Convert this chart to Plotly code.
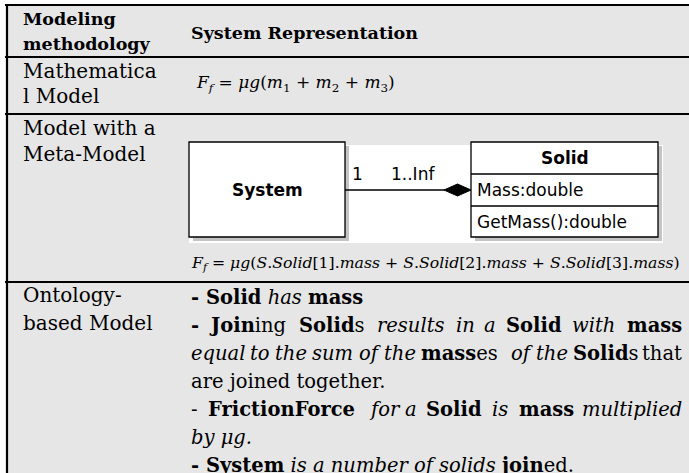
import re
import plotly.graph_objects as go

# table content
header_left = ["Modeling", "methodology"]
header_right = "System Representation"
methods = [["Mathematica", "l Model"], ["Model with a", "Meta-Model"], ["Ontology-", "based Model"]]

formula_math = ("<i>F</i><sub><i>f</i></sub> = <i>μg</i>(<i>m</i><sub>1</sub> + "
                "<i>m</i><sub>2</sub> + <i>m</i><sub>3</sub>)")
formula_meta = ("<i>F</i><sub><i>f</i></sub> = <i>μg</i>(<i>S</i>.<i>Solid</i>[1].<i>mass</i> + "
                "<i>S</i>.<i>Solid</i>[2].<i>mass</i> + <i>S</i>.<i>Solid</i>[3].<i>mass</i>)")

uml_system = "System"
uml_solid = "Solid"
uml_members = ["Mass:double", "GetMass():double"]
multiplicity = ["1", "1..Inf"]

# ontology statements, one list of words per printed line
ontology_lines = [
    ["<b>- Solid</b>", "<i>has</i>", "<b>mass</b>"],
    ["<b>-</b>", "<b>Join</b>ing", "<b>Solid</b>s", "<i>results</i>", "<i>in</i>", "<i>a</i>",
     "<b>Solid</b>", "<i>with</i>", "<b>mass</b>"],
    ["<i>equal</i>", "<i>to</i>", "<i>the</i>", "<i>sum</i>", "<i>of</i>", "<i>the</i>",
     "<b>mass</b>es", "<i>of</i>", "<i>the</i>", "<b>Solid</b>s", "that"],
    ["are joined together."],
    ["-", "<b>FrictionForce</b>", "<i>for</i>", "<i>a</i>", "<b>Solid</b>", "<i>is</i>",
     "<b>mass</b>", "<i>multiplied</i>"],
    ["<i>by μg.</i>"],
    ["<b>- System</b> <i>is a number of solids</i> <b>join</b>ed."],
]
justified = [False, True, True, False, True, False, False]

SERIF = "DejaVu Serif"
SANS = "DejaVu Sans"
GRID = "#e6e6e6"

fig = go.Figure()
fig.add_trace(go.Scatter(x=[0, 689], y=[0, 473], mode="markers",
                         marker=dict(opacity=0), hoverinfo="skip", showlegend=False))

shapes = []
# table background and rules
shapes.append(dict(type="rect", x0=6, x1=700, y0=5, y1=480, fillcolor=GRID, line_width=0, layer="below"))
for yy in [5, 57, 114, 282]:
    shapes.append(dict(type="line", x0=5, x1=700, y0=yy, y1=yy, line=dict(color="black", width=2.2)))
shapes.append(dict(type="line", x0=7, x1=7, y0=4, y1=480, line=dict(color="black", width=2.2)))

# UML diagram
shapes.append(dict(type="rect", x0=189, x1=663, y0=145, y1=243, fillcolor="white", line_width=0))
shapes.append(dict(type="rect", x0=193, x1=349, y0=146, y1=241, fillcolor="#c4c4c4", line_width=0))
shapes.append(dict(type="rect", x0=475, x1=662, y0=146, y1=241, fillcolor="#c4c4c4", line_width=0))
shapes.append(dict(type="rect", x0=189, x1=345, y0=142, y1=237, fillcolor="white",
                   line=dict(color="black", width=1.3)))
shapes.append(dict(type="rect", x0=471, x1=658, y0=142, y1=237, fillcolor="white",
                   line=dict(color="black", width=1.3)))
for yy in [174, 206]:
    shapes.append(dict(type="line", x0=471, x1=658, y0=yy, y1=yy, line=dict(color="black", width=1.3)))
shapes.append(dict(type="line", x0=345, x1=445, y0=190, y1=190, line=dict(color="black", width=1.3)))
shapes.append(dict(type="path", path="M 444 190 L 457.5 184 L 471 190 L 457.5 196 Z",
                   fillcolor="black", line=dict(color="black", width=1)))

ann = []


def text(x, y, s, size, family=SERIF, anchor="left", color="black"):
    ann.append(dict(x=x, y=y, xref="x", yref="y", text=s, showarrow=False, xanchor=anchor,
                    yanchor="middle", font=dict(family=family, size=size, color=color)))


def char_w(ch):
    if ch in "ijl.,:;!|'":
        return 0.32
    if ch in "frt-()[] ":
        return 0.40
    if ch in "mw":
        return 0.92
    if ch in "MW":
        return 1.0
    if ch.isupper():
        return 0.74
    return 0.61


def est_width(word, size):
    # rough DejaVu Serif advance widths, bold runs a bit wider
    w = 0
    bold = False
    for part in re.split(r"(<[^>]+>)", word):
        if part == "<b>":
            bold = True
        elif part == "</b>":
            bold = False
        elif part and not part.startswith("<"):
            w += sum(char_w(c) for c in part) * (1.12 if bold else 1.0)
    return w * size


# header
text(21, 19, "<b>%s</b>" % header_left[0], 17.5)
text(21, 44, "<b>%s</b>" % header_left[1], 17.5)
text(189, 33, "<b>%s</b>" % header_right, 17.5)

# method column
method_y = [(71, 96), (128, 154), (295, 323)]
for lines, ys in zip(methods, method_y):
    for s, yy in zip(lines, ys):
        text(21, yy, s, 20)

# formulas
text(194, 83, formula_math, 17)
text(189, 263, formula_meta, 15.7)

# UML labels
text(267, 190, "<b>%s</b>" % uml_system, 17, SANS, "center")
text(564.5, 158, "<b>%s</b>" % uml_solid, 17, SANS, "center")
text(475, 190, uml_members[0], 17, SANS)
text(475, 222, uml_members[1], 17, SANS)
text(350, 174, multiplicity[0], 17, SANS)
text(389, 174, multiplicity[1], 17, SANS)

# ontology statements
X0, X1, BODY = 189, 684, 19.5
for i, (words, just) in enumerate(zip(ontology_lines, justified)):
    yy = 297 + 28 * i
    if not just:
        text(X0, yy, " ".join(words), BODY)
        continue
    widths = [est_width(w, BODY) for w in words]
    gap = (X1 - X0 - sum(widths)) / (len(words) - 1)
    x = X0
    for j, (w, wd) in enumerate(zip(words, widths)):
        if j == len(words) - 1:
            text(X1, yy, w, BODY, anchor="right")
        else:
            text(x, yy, w, BODY)
        x += wd + gap

fig.update_layout(
    width=689, height=473, margin=dict(l=0, r=0, t=0, b=0),
    paper_bgcolor="white", plot_bgcolor="white",
    xaxis=dict(range=[0, 689], visible=False, fixedrange=True),
    yaxis=dict(range=[473, 0], visible=False, fixedrange=True),
    shapes=shapes, annotations=ann, showlegend=False,
)
# drop the default page margin so the figure sits at the window's corner
fig.write_html("out.html", config={"displayModeBar": False},
               post_script="document.body.style.margin='0px';")
